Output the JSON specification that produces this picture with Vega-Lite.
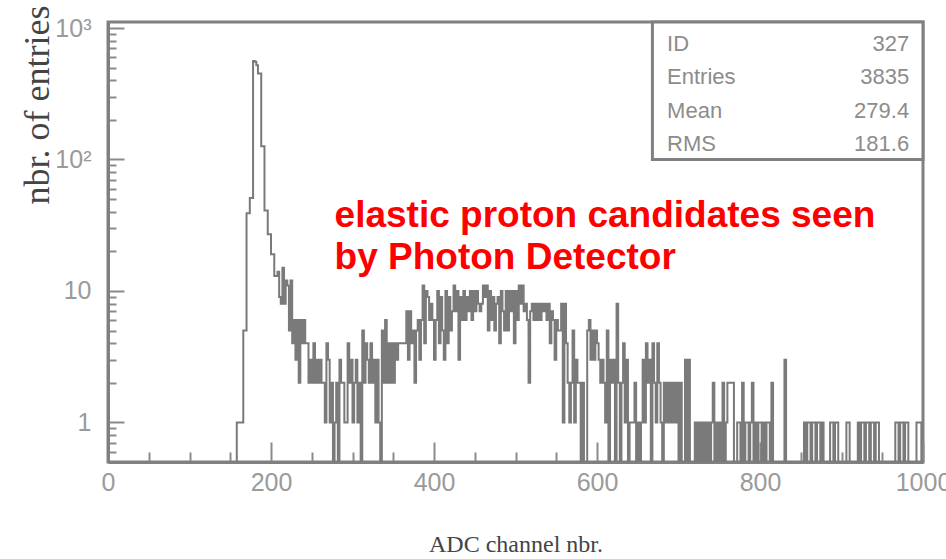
{
  "$schema": "https://vega.github.io/schema/vega-lite/v6.json",
  "width": 815,
  "height": 440,
  "autosize": {"type": "none"},
  "padding": {"left": 108, "top": 22, "right": 23, "bottom": 97},
  "background": "white",
  "config": {"view": {"stroke": "#808080", "strokeWidth": 3}},
  "datasets": {
    "hist": [
      {"ch":150,"n":0},{"ch":152,"n":0},{"ch":154,"n":0},{"ch":156,"n":0},{"ch":158,"n":1},{"ch":160,"n":1},{"ch":162,"n":1},{"ch":164,"n":1},{"ch":166,"n":5},{"ch":168,"n":5},
      {"ch":170,"n":39},{"ch":172,"n":39},{"ch":174,"n":51},{"ch":176,"n":51},{"ch":178,"n":561},{"ch":180,"n":555},{"ch":182,"n":520},{"ch":184,"n":450},{"ch":186,"n":450},{"ch":188,"n":126},
      {"ch":190,"n":126},{"ch":192,"n":41},{"ch":194,"n":41},{"ch":196,"n":27},{"ch":198,"n":27},{"ch":200,"n":19},{"ch":202,"n":19},{"ch":204,"n":13},{"ch":206,"n":13},{"ch":208,"n":14},
      {"ch":210,"n":9},{"ch":212,"n":8},{"ch":214,"n":15},{"ch":216,"n":8},{"ch":218,"n":12},{"ch":220,"n":11},{"ch":222,"n":5},{"ch":224,"n":12},{"ch":226,"n":4},{"ch":228,"n":6},
      {"ch":230,"n":3},{"ch":232,"n":6},{"ch":234,"n":2},{"ch":236,"n":6},{"ch":238,"n":4},{"ch":240,"n":6},{"ch":242,"n":4},{"ch":244,"n":4},{"ch":246,"n":2},{"ch":248,"n":3},
      {"ch":250,"n":2},{"ch":252,"n":4},{"ch":254,"n":2},{"ch":256,"n":3},{"ch":258,"n":2},{"ch":260,"n":3},{"ch":262,"n":2},{"ch":264,"n":2},{"ch":266,"n":1},{"ch":268,"n":4},
      {"ch":270,"n":3},{"ch":272,"n":1},{"ch":274,"n":2},{"ch":276,"n":0},{"ch":278,"n":1},{"ch":280,"n":2},{"ch":282,"n":0},{"ch":284,"n":3},{"ch":286,"n":2},{"ch":288,"n":2},
      {"ch":290,"n":1},{"ch":292,"n":1},{"ch":294,"n":4},{"ch":296,"n":2},{"ch":298,"n":3},{"ch":300,"n":1},{"ch":302,"n":2},{"ch":304,"n":3},{"ch":306,"n":1},{"ch":308,"n":2},
      {"ch":310,"n":0},{"ch":312,"n":5},{"ch":314,"n":2},{"ch":316,"n":4},{"ch":318,"n":3},{"ch":320,"n":2},{"ch":322,"n":4},{"ch":324,"n":2},{"ch":326,"n":3},{"ch":328,"n":1},
      {"ch":330,"n":3},{"ch":332,"n":1},{"ch":334,"n":0},{"ch":336,"n":5},{"ch":338,"n":2},{"ch":340,"n":6},{"ch":342,"n":2},{"ch":344,"n":4},{"ch":346,"n":2},{"ch":348,"n":4},
      {"ch":350,"n":2},{"ch":352,"n":4},{"ch":354,"n":3},{"ch":356,"n":4},{"ch":358,"n":4},{"ch":360,"n":4},{"ch":362,"n":4},{"ch":364,"n":4},{"ch":366,"n":7},{"ch":368,"n":3},
      {"ch":370,"n":7},{"ch":372,"n":4},{"ch":374,"n":5},{"ch":376,"n":2},{"ch":378,"n":5},{"ch":380,"n":6},{"ch":382,"n":3},{"ch":384,"n":6},{"ch":386,"n":11},{"ch":388,"n":4},
      {"ch":390,"n":10},{"ch":392,"n":9},{"ch":394,"n":6},{"ch":396,"n":8},{"ch":398,"n":6},{"ch":400,"n":3},{"ch":402,"n":6},{"ch":404,"n":10},{"ch":406,"n":4},{"ch":408,"n":9},
      {"ch":410,"n":5},{"ch":412,"n":3},{"ch":414,"n":10},{"ch":416,"n":4},{"ch":418,"n":9},{"ch":420,"n":5},{"ch":422,"n":7},{"ch":424,"n":11},{"ch":426,"n":7},{"ch":428,"n":10},
      {"ch":430,"n":3},{"ch":432,"n":9},{"ch":434,"n":6},{"ch":436,"n":10},{"ch":438,"n":6},{"ch":440,"n":9},{"ch":442,"n":7},{"ch":444,"n":10},{"ch":446,"n":6},{"ch":448,"n":10},
      {"ch":450,"n":7},{"ch":452,"n":10},{"ch":454,"n":8},{"ch":456,"n":7},{"ch":458,"n":8},{"ch":460,"n":11},{"ch":462,"n":9},{"ch":464,"n":11},{"ch":466,"n":5},{"ch":468,"n":10},
      {"ch":470,"n":6},{"ch":472,"n":9},{"ch":474,"n":5},{"ch":476,"n":8},{"ch":478,"n":9},{"ch":480,"n":4},{"ch":482,"n":10},{"ch":484,"n":7},{"ch":486,"n":5},{"ch":488,"n":10},
      {"ch":490,"n":5},{"ch":492,"n":10},{"ch":494,"n":7},{"ch":496,"n":10},{"ch":498,"n":4},{"ch":500,"n":10},{"ch":502,"n":6},{"ch":504,"n":11},{"ch":506,"n":8},{"ch":508,"n":11},
      {"ch":510,"n":7},{"ch":512,"n":8},{"ch":514,"n":6},{"ch":516,"n":2},{"ch":518,"n":7},{"ch":520,"n":8},{"ch":522,"n":6},{"ch":524,"n":8},{"ch":526,"n":6},{"ch":528,"n":8},
      {"ch":530,"n":6},{"ch":532,"n":8},{"ch":534,"n":7},{"ch":536,"n":8},{"ch":538,"n":6},{"ch":540,"n":8},{"ch":542,"n":4},{"ch":544,"n":7},{"ch":546,"n":6},{"ch":548,"n":3},
      {"ch":550,"n":6},{"ch":552,"n":5},{"ch":554,"n":5},{"ch":556,"n":8},{"ch":558,"n":1},{"ch":560,"n":8},{"ch":562,"n":4},{"ch":564,"n":2},{"ch":566,"n":1},{"ch":568,"n":2},
      {"ch":570,"n":5},{"ch":572,"n":1},{"ch":574,"n":3},{"ch":576,"n":2},{"ch":578,"n":2},{"ch":580,"n":0},{"ch":582,"n":2},{"ch":584,"n":0},{"ch":586,"n":0},{"ch":588,"n":5},
      {"ch":590,"n":6},{"ch":592,"n":3},{"ch":594,"n":5},{"ch":596,"n":3},{"ch":598,"n":5},{"ch":600,"n":4},{"ch":602,"n":3},{"ch":604,"n":2},{"ch":606,"n":3},{"ch":608,"n":2},
      {"ch":610,"n":1},{"ch":612,"n":5},{"ch":614,"n":0},{"ch":616,"n":3},{"ch":618,"n":2},{"ch":620,"n":3},{"ch":622,"n":0},{"ch":624,"n":8},{"ch":626,"n":2},{"ch":628,"n":0},
      {"ch":630,"n":2},{"ch":632,"n":4},{"ch":634,"n":1},{"ch":636,"n":3},{"ch":638,"n":0},{"ch":640,"n":1},{"ch":642,"n":1},{"ch":644,"n":1},{"ch":646,"n":2},{"ch":648,"n":0},
      {"ch":650,"n":1},{"ch":652,"n":0},{"ch":654,"n":1},{"ch":656,"n":3},{"ch":658,"n":1},{"ch":660,"n":4},{"ch":662,"n":2},{"ch":664,"n":3},{"ch":666,"n":0},{"ch":668,"n":4},
      {"ch":670,"n":2},{"ch":672,"n":1},{"ch":674,"n":4},{"ch":676,"n":2},{"ch":678,"n":1},{"ch":680,"n":0},{"ch":682,"n":2},{"ch":684,"n":1},{"ch":686,"n":2},{"ch":688,"n":1},
      {"ch":690,"n":2},{"ch":692,"n":1},{"ch":694,"n":2},{"ch":696,"n":1},{"ch":698,"n":2},{"ch":700,"n":0},{"ch":702,"n":2},{"ch":704,"n":0},{"ch":706,"n":0},{"ch":708,"n":3},
      {"ch":710,"n":0},{"ch":712,"n":3},{"ch":714,"n":0},{"ch":716,"n":0},{"ch":718,"n":0},{"ch":720,"n":1},{"ch":722,"n":0},{"ch":724,"n":1},{"ch":726,"n":0},{"ch":728,"n":1},
      {"ch":730,"n":0},{"ch":732,"n":1},{"ch":734,"n":0},{"ch":736,"n":1},{"ch":738,"n":0},{"ch":740,"n":1},{"ch":742,"n":2},{"ch":744,"n":0},{"ch":746,"n":1},{"ch":748,"n":0},
      {"ch":750,"n":1},{"ch":752,"n":0},{"ch":754,"n":2},{"ch":756,"n":0},{"ch":758,"n":1},{"ch":760,"n":2},{"ch":762,"n":2},{"ch":764,"n":2},{"ch":766,"n":2},{"ch":768,"n":0},
      {"ch":770,"n":0},{"ch":772,"n":1},{"ch":774,"n":1},{"ch":776,"n":0},{"ch":778,"n":2},{"ch":780,"n":0},{"ch":782,"n":1},{"ch":784,"n":1},{"ch":786,"n":0},{"ch":788,"n":1},
      {"ch":790,"n":2},{"ch":792,"n":0},{"ch":794,"n":1},{"ch":796,"n":0},{"ch":798,"n":1},{"ch":800,"n":1},{"ch":802,"n":0},{"ch":804,"n":1},{"ch":806,"n":0},{"ch":808,"n":1},
      {"ch":810,"n":1},{"ch":812,"n":0},{"ch":814,"n":2},{"ch":816,"n":0},{"ch":818,"n":0},{"ch":820,"n":0},{"ch":822,"n":0},{"ch":824,"n":0},{"ch":826,"n":0},{"ch":828,"n":0},
      {"ch":830,"n":3},{"ch":832,"n":0},{"ch":834,"n":0},{"ch":836,"n":0},{"ch":838,"n":0},{"ch":840,"n":0},{"ch":842,"n":0},{"ch":844,"n":0},{"ch":846,"n":0},{"ch":848,"n":0},
      {"ch":850,"n":0},{"ch":852,"n":0},{"ch":854,"n":1},{"ch":856,"n":0},{"ch":858,"n":1},{"ch":860,"n":1},{"ch":862,"n":0},{"ch":864,"n":1},{"ch":866,"n":1},{"ch":868,"n":0},
      {"ch":870,"n":1},{"ch":872,"n":1},{"ch":874,"n":0},{"ch":876,"n":1},{"ch":878,"n":0},{"ch":880,"n":0},{"ch":882,"n":0},{"ch":884,"n":0},{"ch":886,"n":1},{"ch":888,"n":1},
      {"ch":890,"n":0},{"ch":892,"n":1},{"ch":894,"n":1},{"ch":896,"n":0},{"ch":898,"n":0},{"ch":900,"n":0},{"ch":902,"n":0},{"ch":904,"n":0},{"ch":906,"n":1},{"ch":908,"n":1},
      {"ch":910,"n":0},{"ch":912,"n":0},{"ch":914,"n":0},{"ch":916,"n":0},{"ch":918,"n":0},{"ch":920,"n":1},{"ch":922,"n":0},{"ch":924,"n":1},{"ch":926,"n":1},{"ch":928,"n":0},
      {"ch":930,"n":1},{"ch":932,"n":1},{"ch":934,"n":0},{"ch":936,"n":1},{"ch":938,"n":1},{"ch":940,"n":0},{"ch":942,"n":1},{"ch":944,"n":1},{"ch":946,"n":0},{"ch":948,"n":0},
      {"ch":950,"n":0},{"ch":952,"n":0},{"ch":954,"n":0},{"ch":956,"n":0},{"ch":958,"n":0},{"ch":960,"n":0},{"ch":962,"n":0},{"ch":964,"n":0},{"ch":966,"n":1},{"ch":968,"n":1},
      {"ch":970,"n":0},{"ch":972,"n":1},{"ch":974,"n":1},{"ch":976,"n":0},{"ch":978,"n":1},{"ch":980,"n":1},{"ch":982,"n":0},{"ch":984,"n":0},{"ch":986,"n":0},{"ch":988,"n":0},
      {"ch":990,"n":0},{"ch":992,"n":1},{"ch":994,"n":1},{"ch":996,"n":1},{"ch":998,"n":0}
    ],
    "one": [{}]
  },
  "layer": [
    {
      "data": {"name": "hist"},
      "mark": {"type": "line", "interpolate": "step-after", "stroke": "#7a7a7a", "strokeWidth": 2, "clip": true},
      "encoding": {
        "x": {
          "field": "ch", "type": "quantitative",
          "scale": {"domain": [0, 1000], "nice": false},
          "axis": {
            "values": [0,50,100,150,200,250,300,350,400,450,500,550,600,650,700,750,800,850,900,950,1000],
            "format": "d",
            "labelExpr": "datum.value % 200 == 0 ? datum.label : ''",
            "tickSize": {"condition": {"test": "datum.value % 200 == 0", "value": -20}, "value": -10},
            "tickColor": "#8a8a8a", "tickWidth": 2,
            "domainColor": "#808080", "domainWidth": 3,
            "grid": false,
            "labelFont": "Liberation Sans", "labelFontSize": 25, "labelColor": "#9a9a9a",
            "labelPadding": 28, "labelOverlap": false, "labelFlush": false,
            "title": "ADC channel nbr.",
            "titleFont": "Liberation Serif", "titleFontSize": 24, "titleFontWeight": "normal", "titleColor": "#444444",
            "titlePadding": 27
          }
        },
        "y": {
          "field": "n", "type": "quantitative",
          "scale": {"type": "log", "domain": [0.5, 1111], "nice": false, "clamp": true},
          "axis": {
            "values": [0.6,0.7,0.8,0.9,1,2,3,4,5,6,7,8,9,10,20,30,40,50,60,70,80,90,100,200,300,400,500,600,700,800,900,1000],
            "labelExpr": "datum.value == 1 ? '1' : datum.value == 10 ? '10' : datum.value == 100 ? '10²' : datum.value == 1000 ? '10³' : ''",
            "tickSize": {"condition": {"test": "datum.value == 1 || datum.value == 10 || datum.value == 100 || datum.value == 1000", "value": -16}, "value": -8},
            "tickColor": "#8a8a8a", "tickWidth": 2,
            "domainColor": "#808080", "domainWidth": 3,
            "grid": false,
            "labelFont": "Liberation Sans", "labelFontSize": 25, "labelColor": "#9a9a9a",
            "labelPadding": 33, "labelOverlap": false, "labelFlush": false,
            "title": "nbr. of entries",
            "titleFont": "Liberation Serif", "titleFontSize": 36, "titleFontWeight": "normal", "titleColor": "#444444",
            "titleAnchor": "end", "titleX": -52, "titleY": -17
          }
        }
      }
    },
    {
      "data": {"name": "one"},
      "mark": {"type": "rect", "fill": "white", "stroke": "#808080", "strokeWidth": 3},
      "encoding": {
        "x": {"datum": 668}, "x2": {"datum": 1000},
        "y": {"datum": 100}, "y2": {"datum": 1111}
      }
    },
    {
      "data": {"name": "one"},
      "mark": {"type": "text", "align": "left", "baseline": "middle", "font": "Liberation Sans", "fontSize": 22, "color": "#8c8c8c", "lineHeight": 33.5},
      "encoding": {
        "x": {"datum": 686}, "y": {"datum": 762},
        "text": {"value": ["ID", "Entries", "Mean", "RMS"]}
      }
    },
    {
      "data": {"name": "one"},
      "mark": {"type": "text", "align": "right", "baseline": "middle", "font": "Liberation Sans", "fontSize": 22, "color": "#8c8c8c", "lineHeight": 33.5},
      "encoding": {
        "x": {"datum": 983}, "y": {"datum": 762},
        "text": {"value": ["327", "3835", "279.4", "181.6"]}
      }
    },
    {
      "data": {"name": "one"},
      "mark": {"type": "text", "align": "left", "baseline": "alphabetic", "font": "Liberation Sans", "fontWeight": "bold", "fontSize": 37, "color": "#ff0000", "lineHeight": 42},
      "encoding": {
        "x": {"datum": 278}, "y": {"datum": 30.5},
        "text": {"value": ["elastic proton candidates seen", "by Photon Detector"]}
      }
    }
  ]
}
